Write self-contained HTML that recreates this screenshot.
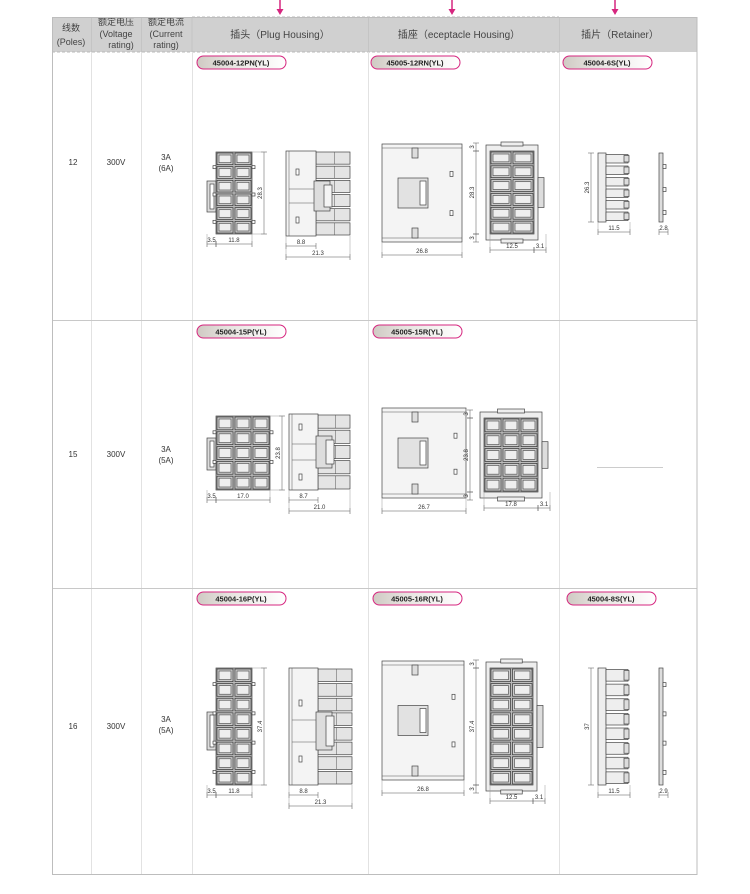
<!DOCTYPE html>
<html><head><meta charset="utf-8">
<style>
html,body{margin:0;padding:0;background:#fff;}
body{width:750px;height:894px;position:relative;overflow:hidden;font-family:"Liberation Sans","Noto Sans CJK SC",sans-serif;}
#svg{position:absolute;left:0;top:0;}
</style></head>
<body>
<svg id="svg" width="750" height="894" xmlns="http://www.w3.org/2000/svg" font-family="Liberation Sans, Noto Sans CJK SC, sans-serif">
<defs>
<linearGradient id="pg" x1="0" x2="1" y1="0" y2="0">
<stop offset="0" stop-color="#cfcac3"/><stop offset="0.35" stop-color="#e6e3df"/><stop offset="1" stop-color="#ffffff"/>
</linearGradient>
</defs>
<g stroke="#d6267f" stroke-width="1.5" fill="#d6267f">
<line x1="280" y1="0" x2="280" y2="10"/><polygon points="276.5,9 283.5,9 280,15" stroke="none"/>
<line x1="452" y1="0" x2="452" y2="10"/><polygon points="448.5,9 455.5,9 452,15" stroke="none"/>
<line x1="615" y1="0" x2="615" y2="10"/><polygon points="611.5,9 618.5,9 615,15" stroke="none"/>
</g>
<rect x="52" y="17" width="645" height="35" fill="#d0d0d0"/>
<line x1="52" y1="52" x2="559" y2="52" stroke="#b8b8b8" stroke-dasharray="3,2"/>
<line x1="192" y1="17" x2="559" y2="17" stroke="#b8b8b8" stroke-dasharray="3,2"/>
<g stroke="#c4c4c4" stroke-width="1">
<line x1="91.5" y1="17" x2="91.5" y2="52"/><line x1="141.5" y1="17" x2="141.5" y2="52"/>
<line x1="192" y1="17" x2="192" y2="52"/><line x1="368.5" y1="17" x2="368.5" y2="52"/>
<line x1="559.5" y1="17" x2="559.5" y2="52"/>
</g>
<g font-size="9" fill="#444" text-anchor="middle">
<text x="71" y="31">线数</text><text x="71" y="45">(Poles)</text>
<text x="116" y="25">额定电压</text><text x="116" y="37">(Voltage</text><text x="121" y="48">rating)</text>
<text x="166" y="25">额定电流</text><text x="166" y="37">(Current</text><text x="166" y="48">rating)</text>
<text x="280" y="38" font-size="10">插头（Plug Housing）</text>
<text x="459" y="38" font-size="10">插座（eceptacle Housing）</text>
<text x="620" y="38" font-size="10">插片（Retainer）</text>
</g>
<g stroke="#e2e2e2" stroke-width="1" fill="none">
<line x1="91.5" y1="52" x2="91.5" y2="874"/><line x1="141.5" y1="52" x2="141.5" y2="874"/>
<line x1="192.5" y1="52" x2="192.5" y2="874"/><line x1="368.5" y1="52" x2="368.5" y2="874"/>
<line x1="559.5" y1="52" x2="559.5" y2="874"/>
</g>
<g stroke="#c8c8c8" fill="none">
<line x1="52" y1="320.5" x2="697" y2="320.5"/><line x1="52" y1="588.5" x2="697" y2="588.5"/>
<rect x="52.5" y="17.5" width="644.5" height="857" stroke="#bdbdbd"/>
</g>
<g font-size="8" fill="#333" text-anchor="middle">
<text x="73" y="165">12</text><text x="116" y="165">300V</text><text x="166" y="160">3A</text><text x="166" y="171">(6A)</text>
<text x="73" y="457">15</text><text x="116" y="457">300V</text><text x="166" y="452">3A</text><text x="166" y="463">(5A)</text>
<text x="73" y="729">16</text><text x="116" y="729">300V</text><text x="166" y="722">3A</text><text x="166" y="733">(5A)</text>
</g>
<line x1="597" y1="467.5" x2="663" y2="467.5" stroke="#ccc"/>
<g id="draw"></g>
</svg>
<script>
var G=document.getElementById('draw'),S='';
function r(x,y,w,h,f,s){S+='<rect x="'+x+'" y="'+y+'" width="'+w+'" height="'+h+'" fill="'+(f||'#fff')+'" stroke="'+(s||'#444')+'" stroke-width="0.7"/>';}
function l(x1,y1,x2,y2,c){S+='<line x1="'+x1+'" y1="'+y1+'" x2="'+x2+'" y2="'+y2+'" stroke="'+(c||'#555')+'" stroke-width="0.5"/>';}
function t(x,y,s,rot){S+='<text x="'+x+'" y="'+y+'" font-size="6" fill="#333" text-anchor="middle"'+(rot?' transform="rotate(-90 '+x+' '+y+')"':'')+'>'+s+'</text>';}
function pill(x,y,s){S+='<rect x="'+x+'" y="'+y+'" width="89" height="13" rx="6.5" fill="url(#pg)" stroke="#d6267f" stroke-width="1"/><text x="'+(x+44)+'" y="'+(y+9.5)+'" font-size="7.5" font-weight="bold" fill="#222" text-anchor="middle">'+s+'</text>';}
function hd(x1,x2,y,s){l(x1,y,x2,y);l(x1,y-3,x1,y+3);l(x2,y-3,x2,y+3);t((x1+x2)/2,y-2,s);}
function vd(x,y1,y2,s){l(x,y1,x,y2);l(x-3,y1,x+3,y1);l(x-3,y2,x+3,y2);t(x-2,(y1+y2)/2,s,1);}
function grid(x,y,w,h,cols,rows){r(x,y,w,h,'#bbb');var cw=w/cols,ch=h/rows;for(var i=0;i<cols;i++)for(var j=0;j<rows;j++){r(x+i*cw+1,y+j*ch+1,cw-2,ch-2,'#ccc','#333');r(x+i*cw+3,y+j*ch+3,cw-6,ch-6,'#eee','#555');}}
function plugFront(x,y,w,h,cols,rows,ly,lh,d1,d2,d3){r(x-9,ly,9,lh,'#ddd');r(x-6,ly+3,4,lh-6,'#fff');grid(x,y,w,h,cols,rows);
 for(var j=1;j<rows;j+=2){r(x-3,y+j*h/rows,3,3);r(x+w,y+j*h/rows,3,3);}
 vd(x+w+12,y,y+h,d1);l(x+w,y,x+w+14,y,'#999');l(x+w,y+h,x+w+14,y+h,'#999');
 hd(x-9,x,y+h+10,d2);hd(x,x+w,y+h+10,d3);l(x-9,y+h,x-9,y+h+13,'#999');l(x+w,y+h,x+w,y+h+13,'#999');}
function plugSide(x,y,bw,h,pw,rows,ly,lh,d1,d2){var ph=h/rows;for(var j=0;j<rows;j++){r(x+bw,y+j*ph+1,pw,ph-2,'#e4e4e4');l(x+bw+pw*0.55,y+j*ph+1,x+bw+pw*0.55,y+j*ph+ph-1);}
 r(x,y,bw,h,'#f4f4f4');l(x+3,y,x+3,y+h);r(x+bw-2,ly,16,lh,'#ddd');r(x+bw+8,ly+4,8,lh-8,'#f4f4f4');l(x+3,ly+8,x+bw-2,ly+8);l(x+3,ly+lh-8,x+bw-2,ly+lh-8);
 r(x+10,ly-12,3,6);r(x+10,ly+lh+6,3,6);
 hd(x,x+bw,y+h+10,d1);hd(x,x+bw+pw,y+h+21,d2);l(x,y+h,x,y+h+24,'#999');l(x+bw+pw,y+h,x+bw+pw,y+h+24,'#999');}
function recSide(x,y,w,h,d){r(x,y,w,h,'#f4f4f4');l(x,y+4,x+w,y+4);l(x,y+h-4,x+w,y+h-4);r(x+30,y+4,6,10,'#ddd');r(x+30,y+h-14,6,10,'#ddd');
 r(x+16,y+h/2-15,30,30,'#e2e2e2');r(x+38,y+h/2-12,6,24,'#fff');r(x+w-12,y+h*0.28,3,5);r(x+w-12,y+h*0.68,3,5);
 hd(x,x+w,y+h+13,d);l(x,y+h,x,y+h+16,'#999');l(x+w,y+h,x+w,y+h+16,'#999');}
function recFront(x,y,w,h,cols,rows,d1,d2,d3){r(x-4,y-6,w+8,h+12,'#eee');r(x+w*0.25,y-9,w*0.5,4,'#eee');r(x+w*0.25,y+h+5,w*0.5,4,'#eee');
 grid(x,y,w,h,cols,rows);r(x+w+4,y+h*0.32,6,h*0.36,'#ddd');
 vd(x-14,y-8,y,'3');vd(x-14,y,y+h,d1);vd(x-14,y+h,y+h+8,'3');
 hd(x,x+w,y+h+16,d2);hd(x+w,x+w+12,y+h+16,d3);l(x,y+h,x,y+h+19,'#999');l(x+w+12,y+h,x+w+12,y+h+19,'#999');}
function ret(x,y,h,n,d1,d2){var ph=h/n;r(x,y,8,h,'#eee');for(var j=0;j<n;j++){r(x+8,y+j*ph+1.5,22,ph-3,'#eee');r(x+26,y+j*ph+2.5,5,ph-5,'#ddd');}
 vd(x-7,y,y+h,d1);hd(x,x+32,y+h+10,d2);l(x,y+h,x,y+h+13,'#999');l(x+32,y+h,x+32,y+h+13,'#999');
 var sx=x+61;r(sx,y,4,h,'#ddd');for(var j=1;j<n;j+=2)r(sx+4,y+j*ph,3,4);hd(sx,sx+9,y+h+10,n==6?'2.8':'2.9');}
pill(197,56,'45004-12PN(YL)');pill(371,56,'45005-12RN(YL)');pill(563,56,'45004-6S(YL)');
plugFront(216,152,36,82,2,6,181,31,'28.3','3.5','11.8');
plugSide(286,151,30,85,34,6,181,30,'8.8','21.3');
recSide(382,144,80,98,'26.8');
recFront(490,151,44,83,2,6,'28.3','12.5','3.1');
ret(598,153,69,6,'26.3','11.5');
pill(197,325,'45004-15P(YL)');pill(373,325,'45005-15R(YL)');
plugFront(216,416,54,74,3,5,438,32,'23.8','3.5','17.0');
plugSide(289,414,29,76,32,5,436,32,'8.7','21.0');
recSide(382,408,84,90,'26.7');
recFront(484,418,54,74,3,5,'23.8','17.8','3.1');
pill(197,592,'45004-16P(YL)');pill(373,592,'45005-16R(YL)');pill(567,592,'45004-8S(YL)');
plugFront(216,668,36,117,2,8,712,38,'37.4','3.5','11.8');
plugSide(289,668,29,117,34,8,712,38,'8.8','21.3');
recSide(382,661,82,119,'26.8');
recFront(490,668,43,117,2,8,'37.4','12.5','3.1');
ret(598,668,117,8,'37','11.5');
G.innerHTML=S;
</script>
</body></html>
